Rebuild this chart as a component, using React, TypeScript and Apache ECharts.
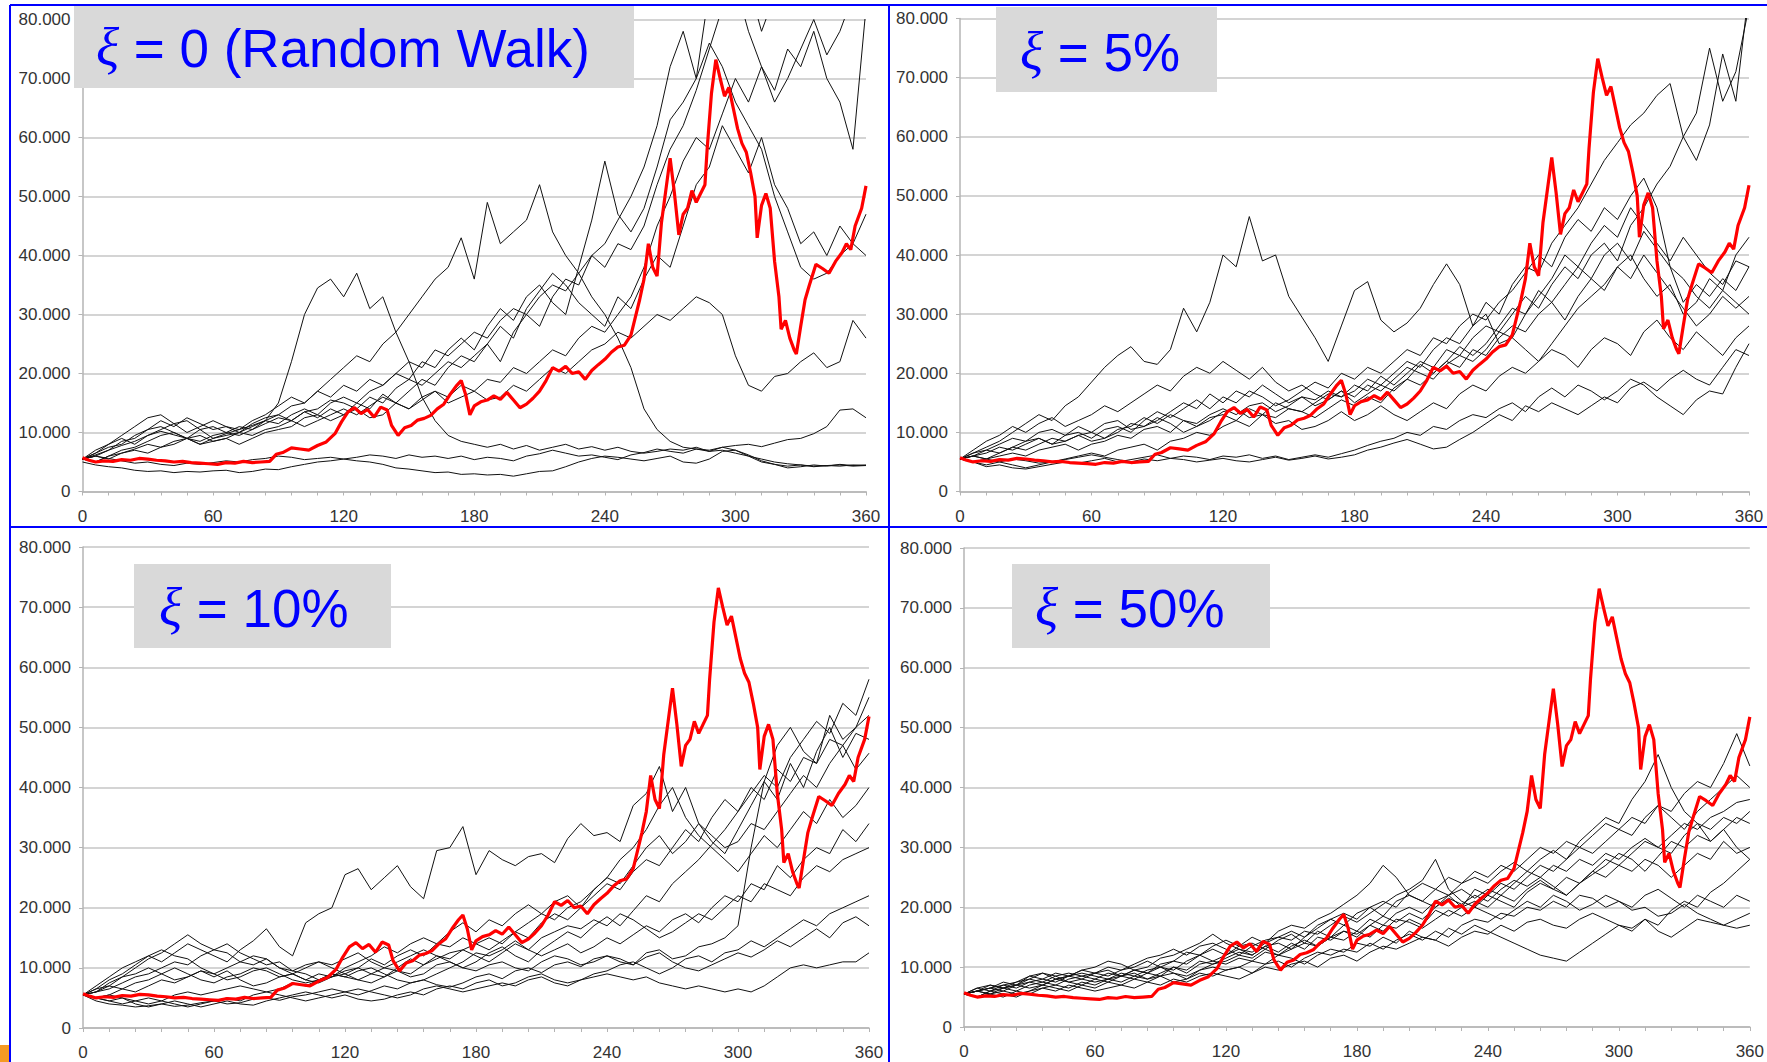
import React, { useEffect, useRef } from 'react';
import * as echarts from 'echarts';

// sampling days for the black simulated paths
const DAYS = [0, 6, 12, 18, 24, 30, 36, 42, 48, 54, 60, 66, 72, 78, 84, 90, 96, 102, 108, 114, 120, 126, 132, 138, 144, 150, 156, 162, 168, 174, 180, 186, 192, 198, 204, 210, 216, 222, 228, 234, 240, 246, 252, 258, 264, 270, 276, 282, 288, 294, 300, 306, 312, 318, 324, 330, 336, 342, 348, 354, 360];

const X_LABELS = [0, 60, 120, 180, 240, 300, 360];
const TITLES = [' = 0 (Random Walk)', ' = 5%', ' = 10%', ' = 50%'];

// red (actual) path: [day, value in thousands]
const RED: [number, number][] = [
  [0, 5.7], [3, 5.3], [6, 5.0], [10, 5.2], [14, 5.1], [18, 5.4], [22, 5.3], [26, 5.6], [30, 5.5], [34, 5.3], [38, 5.2], [42, 5.0], [46, 5.1], [50, 4.9], [54, 4.8], [58, 4.7], [62, 4.6], [66, 4.9], [70, 4.8], [74, 5.1], [78, 4.9], [82, 5.0], [86, 5.1], [89, 6.3], [92, 6.6], [96, 7.4], [100, 7.2], [104, 7.0], [108, 7.8], [112, 8.4], [116, 9.8], [119, 11.8], [122, 13.5], [125, 14.2], [128, 13.2], [131, 13.9], [134, 12.6], [137, 14.3], [140, 13.8], [142, 11.2], [145, 9.5], [148, 10.8], [151, 11.2], [154, 12.1], [157, 12.4], [160, 12.9], [163, 14.0], [166, 14.8], [169, 16.5], [172, 18.0], [174, 18.8], [176, 16.5], [178, 13.0], [180, 14.5], [183, 15.2], [186, 15.5], [189, 16.2], [192, 15.6], [195, 16.8], [198, 15.5], [201, 14.2], [204, 14.8], [207, 15.8], [210, 17.0], [213, 18.8], [216, 21.0], [219, 20.4], [222, 21.2], [225, 20.0], [228, 20.3], [231, 19.0], [234, 20.5], [237, 21.5], [240, 22.4], [243, 23.6], [246, 24.5], [249, 24.8], [252, 26.5], [254, 29.5], [256, 32.5], [258, 36.0], [260, 42.0], [262, 38.0], [264, 36.5], [266, 45.5], [268, 51.0], [270, 56.5], [272, 50.5], [274, 43.5], [276, 47.0], [278, 48.0], [280, 51.0], [282, 49.0], [284, 50.5], [286, 52.0], [287, 58.0], [289, 67.5], [291, 73.2], [293, 70.0], [295, 67.0], [297, 68.5], [299, 65.0], [301, 61.5], [303, 59.0], [305, 57.5], [307, 54.0], [309, 50.0], [310, 43.0], [312, 48.5], [314, 50.5], [316, 48.0], [318, 39.0], [320, 33.0], [321, 27.5], [323, 29.0], [325, 26.0], [327, 24.0], [328, 23.3], [330, 28.0], [332, 32.5], [334, 35.0], [337, 38.5], [340, 37.8], [343, 37.0], [346, 39.0], [349, 40.5], [351, 42.0], [353, 41.0], [355, 45.0], [358, 48.0], [360, 51.8],
];

// xi = 0 (random walk) black paths, values in thousands at DAYS
const TL_LINES = [
  [5.5, 6.2, 7.0, 7.8, 8.5, 9.5, 10.2, 9.6, 9.0, 10.5, 9.0, 9.8, 10.5, 11.2, 12.0, 15.0, 22.0, 30.0, 34.5, 36.0, 33, 37, 31, 33, 27, 22, 16, 12, 9.5, 8.5, 8, 7.5, 8, 7.2, 7.8, 7, 7.5, 8, 7.2, 7.6, 7, 7.5, 6.8, 6.5, 6.8, 7.2, 7, 7.5, 6.8, 7, 6.5, 6, 5.5, 5, 4.7, 4.5, 4.3, 4.4, 4.5, 4.3, 4.4],
  [5.5, 5.0, 6.0, 6.5, 7.2, 8.0, 7.5, 8.5, 9.0, 8.0, 9.0, 9.5, 10.0, 11.0, 12.0, 13.0, 14.5, 15.0, 17.0, 19.0, 21.0, 23.0, 22.0, 25.0, 27.0, 30.0, 33.0, 36.0, 38.0, 43.0, 36.0, 49.0, 42.0, 44.0, 46.0, 52.0, 44.0, 40.0, 37.0, 33.0, 30.0, 26.0, 21.0, 14.0, 10.5, 8.5, 7.5, 7.2, 6.8, 7.5, 7.0, 6.0, 5.0, 4.6, 4.3, 4.5, 4.2, 4.4, 4.3, 4.5, 4.4],
  [5.0, 4.5, 4.2, 4.0, 3.6, 3.4, 3.5, 3.2, 3.4, 3.3, 3.5, 3.6, 3.2, 3.4, 3.8, 3.7, 4.2, 4.6, 5.0, 5.2, 5.5, 5.2, 5.0, 4.6, 4.0, 3.8, 3.5, 3.2, 3.3, 2.9, 3.0, 2.8, 2.9, 2.6, 3.0, 3.4, 3.5, 4.2, 5.0, 5.6, 6.0, 5.8, 5.5, 5.2, 5.6, 6.0, 5.0, 4.8, 5.5, 6.8, 7.0, 6.2, 5.2, 4.6, 4.0, 4.2, 4.5, 4.3, 4.6, 4.4, 4.5],
  [5.5, 6.0, 5.6, 5.2, 4.8, 5.0, 4.6, 4.4, 4.8, 4.6, 4.9, 5.2, 5.0, 5.4, 5.6, 6.0, 5.8, 5.4, 5.6, 5.8, 5.5, 5.8, 6.2, 6.0, 5.6, 6.2, 5.8, 6.0, 5.6, 6.0, 5.4, 5.8, 5.6, 5.2, 6.0, 6.4, 7.0, 6.5, 6.0, 6.2, 5.8, 5.4, 6.2, 6.6, 7.2, 6.8, 6.5, 7.2, 7.0, 7.5, 7.8, 8.0, 7.6, 8.2, 8.8, 9.0, 9.8, 11.0, 13.8, 14.0, 12.5],
  [5.5, 6.5, 7.5, 8.0, 9.5, 10.5, 11.0, 10.0, 9.0, 9.5, 8.5, 9.0, 8.0, 9.0, 10.0, 10.5, 11.0, 12.5, 13.0, 12.0, 13.0, 14.0, 12.5, 13.0, 15.0, 14.0, 16.0, 17.0, 15.0, 16.0, 17.0, 15.5, 16.0, 18.0, 17.0, 19.0, 21.0, 20.0, 22.0, 24.0, 25.0, 27.0, 26.0, 28.0, 30.0, 29.0, 31.0, 33.0, 32.0, 30.0, 23.0, 18.0, 17.0, 19.5, 20.0, 22.0, 23.5, 21.0, 22.0, 29.0, 26.0],
  [5.5, 6.0, 7.0, 8.5, 9.0, 10.5, 12.0, 11.0, 12.5, 11.5, 10.5, 11.0, 10.0, 9.5, 10.5, 11.0, 12.0, 13.5, 14.0, 15.5, 15.0, 14.0, 16.0, 15.0, 17.5, 19.0, 18.0, 20.0, 22.0, 21.0, 23.0, 25.0, 22.0, 27.0, 30.0, 28.0, 33.0, 36.0, 35.0, 40.0, 42.0, 46.0, 50.0, 55.0, 62.0, 72.0, 78.0, 70.0, 85.0, 88.0, 82.0, 86.0, 78.0, 84.0, 90.0, 88.0, 84.0, 92.0, 86.0, 90.0, 95.0],
  [5.5, 6.5, 8.0, 9.5, 11.0, 12.5, 13.0, 11.5, 12.0, 10.5, 11.0, 10.0, 9.5, 10.5, 11.5, 12.5, 12.0, 13.5, 12.5, 14.0, 13.0, 15.0, 14.0, 16.5, 15.0, 14.0, 15.5, 17.0, 16.0, 18.0, 17.0, 19.0, 18.5, 21.0, 20.0, 22.0, 24.0, 23.0, 26.0, 28.0, 27.0, 30.0, 33.0, 38.0, 45.0, 50.0, 56.0, 60.0, 58.0, 64.0, 70.0, 66.0, 72.0, 68.0, 75.0, 72.0, 78.0, 70.0, 66.0, 58.0, 82.0],
  [5.5, 5.0, 6.0, 7.0, 7.5, 8.5, 9.5, 10.0, 9.0, 8.0, 8.5, 9.0, 10.0, 11.5, 12.5, 13.0, 12.0, 11.0, 12.0, 13.0, 14.0, 13.0, 14.5, 16.0, 15.0, 17.0, 19.0, 18.0, 21.0, 23.0, 22.0, 25.0, 28.0, 26.0, 31.0, 34.0, 37.0, 35.0, 32.0, 30.0, 28.0, 33.0, 31.0, 36.0, 40.0, 38.0, 45.0, 52.0, 55.0, 62.0, 58.0, 54.0, 60.0, 52.0, 48.0, 42.0, 44.0, 40.0, 45.0, 42.0, 40.0],
  [5.5, 6.0, 5.5, 6.5, 7.0, 6.5, 7.5, 8.0, 9.0, 8.5, 9.5, 10.0, 11.0, 10.5, 12.0, 11.5, 13.0, 14.0, 13.0, 15.0, 16.0, 15.0, 17.0, 18.0, 20.0, 19.0, 22.0, 21.0, 24.0, 26.0, 24.0, 28.0, 31.0, 29.0, 33.0, 35.0, 32.0, 30.0, 38.0, 46.0, 56.0, 47.0, 44.0, 48.0, 55.0, 63.0, 66.0, 70.0, 76.0, 72.0, 66.0, 62.0, 58.0, 50.0, 44.0, 38.0, 36.0, 37.0, 40.0, 42.0, 47.0],
  [5.5, 7.0, 8.0, 9.0, 8.0, 9.5, 10.5, 11.5, 10.0, 11.0, 12.0, 11.0, 10.5, 12.0, 13.0, 14.5, 16.0, 15.0, 17.0, 16.0, 18.0, 17.0, 19.0, 18.0, 20.0, 22.0, 21.0, 24.0, 23.0, 25.0, 27.0, 26.0, 29.0, 31.0, 30.0, 33.0, 35.0, 34.0, 37.0, 40.0, 38.0, 42.0, 41.0, 45.0, 52.0, 58.0, 62.0, 68.0, 75.0, 82.0, 86.0, 78.0, 72.0, 66.0, 70.0, 75.0, 80.0, 74.0, 78.0, 84.0, 88.0],
];

// xi = 5%
const TR_LINES = [
  [5.5, 6.5, 7.5, 8.5, 10.0, 11.5, 13.0, 12.0, 14.5, 16.0, 18.5, 21.0, 23.0, 24.5, 22.0, 21.5, 24.0, 31.0, 27.0, 32.0, 40.0, 38.0, 46.5, 39.0, 40.0, 33.0, 29.5, 26.0, 22.0, 28.0, 34.0, 35.5, 29.0, 27.0, 28.5, 31.0, 35.0, 38.5, 35.0, 28.0, 30.0, 25.0, 26.0, 24.0, 22.0, 25.0, 28.0, 31.0, 33.0, 35.0, 38.0, 40.0, 36.0, 33.0, 35.0, 30.0, 32.0, 36.0, 34.0, 40.0, 43.0],
  [5.5, 6.0, 5.5, 6.5, 7.5, 7.0, 8.0, 9.0, 8.5, 9.5, 10.0, 9.0, 10.5, 11.0, 12.5, 11.5, 13.0, 12.0, 11.5, 13.0, 14.0, 13.0, 14.5, 15.0, 13.5, 14.5, 16.0, 15.5, 17.0, 16.0, 18.0, 17.0, 19.5, 18.0, 20.0, 22.0, 21.0, 24.0, 23.0, 26.0, 28.0, 27.0, 30.0, 33.0, 31.0, 35.0, 38.0, 36.0, 40.0, 42.0, 39.0, 45.0, 48.0, 52.0, 55.0, 60.0, 64.0, 75.0, 66.0, 71.0, 82.0],
  [5.5, 5.0, 5.5, 6.0, 6.5, 6.0, 7.0, 7.5, 8.0, 7.0, 8.0, 8.5, 9.5, 9.0, 10.5, 11.0, 10.0, 12.0, 11.0, 12.5, 13.0, 12.0, 14.0, 13.0, 15.0, 14.0, 13.5, 15.0, 16.5, 16.0, 17.0, 19.0, 18.0, 20.0, 22.0, 21.0, 24.0, 26.0, 25.0, 28.0, 32.0, 30.0, 35.0, 38.0, 37.0, 42.0, 45.0, 48.0, 52.0, 56.0, 59.0, 62.0, 64.0, 67.0, 69.0, 60.0, 56.0, 62.0, 74.0, 66.0, 85.0],
  [5.5, 6.0, 7.0, 6.5, 7.5, 8.5, 9.0, 8.0, 9.5, 10.0, 9.0, 10.5, 11.0, 10.0, 12.0, 13.5, 12.5, 14.0, 15.5, 14.0, 16.0, 15.0, 17.0, 16.0, 14.5, 15.5, 17.0, 18.5, 17.5, 20.0, 19.0, 21.0, 20.0, 22.0, 24.0, 23.0, 26.0, 25.0, 28.0, 30.0, 29.0, 32.0, 34.0, 37.0, 40.0, 38.0, 43.0, 46.0, 44.0, 48.0, 46.0, 50.0, 53.0, 48.0, 38.0, 32.0, 35.0, 33.0, 36.0, 34.0, 38.0],
  [5.5, 5.0, 4.5, 5.0, 4.5, 4.0, 4.5, 5.0, 5.5, 6.0, 6.5, 6.0, 7.0, 7.5, 8.0, 7.0, 8.5, 9.0, 10.0, 9.5, 11.0, 12.0, 11.0, 13.0, 12.5, 14.0, 13.5, 12.5, 14.0, 15.5, 14.5, 16.0, 15.0, 17.5, 19.0, 18.0, 20.0, 22.0, 21.0, 24.0, 23.0, 26.0, 28.0, 27.0, 30.0, 32.0, 29.0, 33.0, 36.0, 34.0, 38.0, 36.0, 40.0, 37.0, 34.0, 31.0, 28.0, 30.0, 33.0, 31.0, 33.0],
  [5.5, 5.0, 4.2, 4.5, 4.0, 3.8, 4.2, 4.6, 5.0, 4.8, 5.2, 5.6, 5.0, 5.4, 5.8, 6.2, 5.6, 6.0, 5.8, 5.4, 6.0, 5.8, 6.2, 5.6, 6.0, 5.4, 5.8, 6.2, 5.8, 6.4, 7.0, 7.8, 8.5, 9.0, 10.0, 9.5, 11.0, 10.5, 12.0, 13.0, 12.5, 14.0, 15.0, 13.5, 16.0, 17.5, 16.0, 18.0, 17.0, 15.5, 17.0, 19.0, 18.0, 16.0, 14.5, 13.0, 15.5, 17.0, 16.5, 21.0, 25.0],
  [5.5, 6.0, 5.5, 5.0, 5.5, 5.2, 4.8, 5.0, 5.4, 5.8, 6.2, 5.8, 5.4, 5.0, 5.5, 5.2, 5.6, 5.4, 5.0, 5.3, 5.6, 5.2, 5.0, 5.4, 5.8, 5.3, 5.6, 6.0, 5.5, 5.8, 6.2, 7.0, 7.5, 8.2, 8.8, 8.0, 7.2, 7.5, 8.8, 10.0, 11.5, 13.0, 12.0, 14.5, 13.5, 15.0, 14.0, 13.0, 14.5, 16.0, 15.0, 17.5, 18.5, 17.0, 19.0, 20.5, 19.0, 18.0, 21.0, 24.0, 23.0],
  [5.5, 6.5, 7.0, 8.0, 9.0, 8.5, 10.0, 10.5, 9.5, 11.0, 10.0, 11.5, 12.0, 10.5, 11.0, 12.5, 11.5, 10.0, 11.0, 12.0, 13.5, 14.0, 12.5, 13.0, 11.5, 12.0, 10.5, 11.0, 12.0, 13.5, 12.0, 13.0, 14.5, 13.0, 12.0, 13.5, 15.0, 14.0, 16.5, 18.0, 17.0, 19.5, 21.0, 20.0, 22.0, 24.0, 23.0, 21.0, 24.0, 26.0, 25.0, 23.0, 27.0, 29.0, 26.0, 24.0, 27.0, 25.0, 23.0, 26.0, 28.0],
  [5.5, 6.0, 6.5, 7.5, 7.0, 8.0, 9.0, 8.0, 8.5, 9.5, 8.5, 9.0, 10.0, 11.5, 11.0, 12.0, 13.5, 15.0, 14.0, 16.5, 15.0, 17.0, 16.0, 18.0, 16.5, 15.0, 16.0, 14.5, 15.5, 17.0, 16.0, 18.0, 17.0, 19.0, 21.0, 20.0, 19.0, 21.5, 23.0, 22.0, 24.0, 27.0, 26.0, 30.0, 33.0, 36.0, 40.0, 38.0, 42.0, 45.0, 43.0, 48.0, 45.0, 42.0, 39.0, 43.0, 40.0, 37.0, 35.0, 39.0, 38.0],
  [5.5, 7.0, 8.5, 9.5, 11.0, 10.0, 11.5, 12.5, 11.0, 12.0, 13.0, 14.5, 13.5, 15.0, 16.5, 18.0, 17.0, 19.5, 21.0, 20.0, 22.0, 20.5, 19.0, 21.0, 18.5, 17.0, 18.0, 16.5, 15.5, 17.0, 15.0, 16.5, 18.0, 17.0, 19.0, 21.5, 20.0, 22.0, 24.5, 23.0, 25.0, 28.0, 31.0, 30.0, 34.0, 32.0, 35.0, 38.0, 36.0, 40.0, 42.0, 39.0, 44.0, 41.0, 38.0, 36.0, 33.0, 31.0, 34.0, 32.0, 30.0],
];

// xi = 10%
const BL_LINES = [
  [5.5, 6.5, 8.0, 9.0, 10.5, 12.0, 11.0, 12.5, 14.0, 13.0, 12.0, 11.0, 13.0, 14.5, 16.5, 13.5, 12.0, 17.5, 19.0, 20.0, 25.5, 26.5, 23.0, 25.0, 27.0, 23.5, 21.5, 29.5, 30.0, 33.5, 25.5, 29.5, 28.0, 27.0, 28.5, 29.0, 27.5, 31.5, 34.0, 32.0, 32.5, 31.0, 37.0, 39.0, 43.5, 36.0, 40.0, 34.0, 31.0, 29.0, 33.0, 37.0, 41.0, 47.0, 50.0, 46.0, 44.0, 52.0, 48.0, 50.0, 55.0],
  [5.5, 6.0, 7.5, 8.5, 9.0, 10.0, 9.0, 8.0, 8.5, 9.5, 8.5, 9.5, 8.0, 7.0, 7.5, 8.5, 9.0, 8.0, 7.5, 8.5, 9.5, 10.0, 9.0, 8.5, 10.0, 11.5, 10.5, 12.0, 11.0, 10.0, 11.0, 12.5, 13.5, 12.0, 11.0, 13.0, 14.5, 16.0, 15.0, 17.0, 18.5, 17.0, 19.5, 22.0, 21.0, 24.0, 26.0, 28.0, 30.5, 33.0, 36.0, 39.0, 42.0, 40.0, 45.0, 48.0, 51.0, 49.0, 54.0, 52.0, 58.0],
  [5.5, 5.0, 5.5, 6.5, 6.0, 7.0, 8.0, 7.5, 8.5, 9.5, 9.0, 8.0, 8.5, 9.5, 10.0, 9.0, 8.0, 7.5, 8.0, 9.0, 8.5, 8.0, 9.0, 10.0, 9.5, 8.5, 9.0, 10.5, 11.0, 10.0, 9.5, 10.5, 11.0, 10.0, 9.5, 11.0, 12.0, 11.5, 10.5, 11.0, 12.0, 11.5, 10.5, 12.5, 13.0, 11.5, 12.0, 13.5, 14.0, 15.0, 17.0, 30.0, 41.0, 38.0, 44.0, 40.0, 46.0, 50.0, 45.0, 49.0, 48.0],
  [5.5, 6.5, 7.0, 8.5, 10.0, 11.5, 12.5, 14.0, 15.5, 14.0, 13.0, 12.5, 11.0, 10.5, 11.5, 10.0, 9.5, 10.5, 11.0, 10.0, 9.0, 10.0, 11.5, 10.5, 12.0, 13.0, 12.0, 14.0, 13.5, 15.0, 14.0, 13.0, 14.5, 16.0, 15.0, 17.5, 19.0, 18.0, 20.0, 22.0, 24.0, 23.0, 26.0, 28.0, 27.0, 30.0, 33.0, 31.0, 35.0, 38.0, 36.0, 40.0, 38.0, 43.0, 41.0, 45.0, 44.0, 48.0, 47.0, 43.0, 45.7],
  [5.5, 7.0, 8.5, 10.0, 11.0, 12.0, 13.0, 12.0, 11.5, 10.0, 9.0, 10.0, 11.0, 12.0, 11.5, 10.0, 9.0, 8.0, 9.0, 8.5, 10.0, 11.0, 12.0, 13.5, 12.5, 14.0, 15.0, 14.0, 16.0, 17.5, 16.0, 18.0, 17.0, 19.0, 20.5, 19.0, 21.0, 22.0, 20.0, 23.0, 25.0, 28.0, 30.0, 33.0, 37.0, 40.0, 35.0, 32.0, 30.0, 28.0, 26.0, 29.0, 32.0, 30.0, 33.0, 36.0, 34.0, 38.0, 35.0, 37.0, 40.0],
  [5.5, 5.0, 4.5, 4.0, 4.5, 5.0, 4.5, 5.5, 6.0, 5.5, 6.0, 6.5, 7.0, 6.5, 6.0, 6.5, 7.5, 7.0, 8.0, 9.0, 8.5, 9.5, 10.0, 9.0, 8.0, 7.5, 8.0, 9.0, 10.0, 11.0, 12.5, 12.0, 13.0, 14.5, 13.0, 12.0, 13.0, 14.0, 12.5, 13.5, 15.0, 14.0, 15.5, 17.0, 16.0, 18.0, 19.0, 17.5, 20.0, 22.0, 21.0, 24.0, 23.0, 27.0, 25.0, 28.0, 30.0, 29.0, 33.0, 31.0, 34.0],
  [5.5, 6.0, 6.5, 7.5, 8.5, 9.0, 10.0, 11.0, 10.5, 12.0, 13.0, 14.0, 12.5, 11.5, 10.5, 11.0, 9.5, 9.0, 8.0, 8.5, 9.0, 8.0, 7.5, 8.5, 9.5, 9.0, 10.5, 11.5, 12.5, 13.0, 12.0, 11.0, 12.5, 14.0, 13.0, 15.0, 16.0, 17.0, 16.5, 18.0, 17.0, 19.0, 18.0, 16.5, 15.0, 16.0, 17.5, 19.0, 18.0, 20.0, 22.0, 21.0, 24.0, 23.0, 22.0, 25.0, 27.0, 26.0, 28.0, 29.0, 30.0],
  [5.5, 5.0, 5.5, 5.0, 4.0, 3.5, 4.0, 4.5, 4.0, 3.5, 4.0, 4.5, 4.0, 3.8, 4.5, 5.0, 5.5, 6.0, 5.5, 5.0, 5.5, 4.8, 4.5, 4.8, 5.5, 6.0, 5.5, 6.5, 7.0, 6.5, 7.5, 8.0, 7.0, 7.5, 8.5, 9.0, 8.0, 7.5, 8.0, 9.0, 9.5, 10.5, 11.0, 10.0, 9.0, 10.0, 11.5, 12.0, 11.0, 12.5, 13.0, 14.5, 13.5, 15.0, 16.5, 18.0, 17.0, 19.0, 20.0, 21.0, 22.0],
  [5.5, 4.5, 4.0, 3.8, 3.5, 3.7, 4.0, 3.6, 3.8, 4.2, 4.5, 4.0, 4.2, 4.8, 5.0, 4.6, 5.2, 5.5, 6.0, 6.5, 6.0, 5.5, 6.2, 7.0, 6.5, 7.5, 8.0, 7.2, 6.8, 7.5, 8.5, 9.0, 8.2, 9.5, 10.0, 9.2, 10.5, 11.0, 10.2, 11.5, 12.0, 11.0, 10.5, 11.8, 12.5, 11.0, 10.0, 9.5, 10.5, 11.5, 12.5, 11.8, 13.0, 14.5, 13.5, 15.0, 16.5, 15.0, 17.5, 18.5, 17.0],
  [5.5, 5.0, 4.5, 5.0, 4.5, 4.0, 4.5, 4.0, 3.5, 4.0, 4.5, 5.0, 4.5, 5.5, 6.0, 5.5, 5.0, 4.5, 5.0, 5.5, 6.0, 6.5, 6.0, 5.5, 5.0, 5.5, 6.5, 7.0, 6.5, 6.0, 6.5, 7.0, 7.5, 7.0, 8.0, 8.5, 7.5, 7.0, 8.0, 8.5, 9.0, 8.5, 8.0, 8.5, 7.5, 7.0, 6.5, 7.0, 6.5, 6.0, 6.5, 6.0, 7.0, 8.5, 10.0, 10.5, 10.0, 10.5, 11.0, 11.0, 12.5],
  [5.5, 6.0, 7.0, 6.5, 7.5, 8.0, 9.0, 10.0, 9.0, 8.0, 7.5, 8.5, 9.0, 10.0, 9.5, 8.5, 9.0, 10.0, 11.0, 10.5, 11.5, 12.5, 11.0, 10.0, 11.0, 12.0, 13.0, 12.0, 11.5, 13.0, 14.0, 15.0, 14.0, 16.0, 17.5, 19.0, 18.0, 20.0, 21.0, 23.0, 25.0, 24.0, 27.0, 30.0, 32.0, 29.0, 31.0, 34.0, 32.0, 30.0, 31.0, 34.0, 33.0, 36.0, 39.0, 42.0, 40.0, 44.0, 47.0, 50.0, 52.0],
];

// xi = 50%
const BR_LINES = [
  [5.5, 6.0, 6.5, 7.0, 6.5, 7.5, 8.0, 7.5, 8.5, 8.0, 7.5, 8.0, 8.5, 9.5, 9.0, 10.0, 11.0, 10.5, 12.0, 13.0, 12.0, 13.5, 14.0, 13.0, 14.5, 15.5, 14.0, 16.0, 15.0, 17.0, 16.0, 18.0, 17.0, 19.0, 20.0, 19.0, 21.0, 22.0, 20.0, 23.0, 22.0, 24.0, 23.0, 25.0, 27.0, 26.0, 28.0, 30.0, 29.0, 31.0, 33.0, 32.0, 35.0, 37.0, 36.0, 39.0, 41.0, 40.0, 44.0, 49.0, 43.6],
  [5.5, 6.5, 7.0, 6.5, 7.5, 8.5, 8.0, 9.0, 8.5, 9.5, 9.0, 10.0, 9.5, 10.5, 11.5, 12.0, 13.0, 12.0, 13.5, 14.0, 13.0, 12.0, 13.5, 14.5, 15.0, 16.0, 15.0, 17.0, 18.0, 17.0, 19.0, 20.0, 18.5, 21.0, 22.0, 21.0, 23.0, 22.0, 24.0, 25.0, 24.0, 26.0, 27.5, 26.0, 28.0, 29.5, 28.0, 31.0, 33.0, 35.0, 34.0, 38.0, 41.0, 45.5, 40.0, 36.0, 34.0, 31.0, 33.0, 30.0, 28.0],
  [5.5, 6.0, 5.5, 6.0, 7.0, 6.5, 7.0, 8.0, 7.5, 7.0, 8.0, 7.5, 8.5, 8.0, 9.0, 8.5, 10.0, 9.5, 11.0, 10.5, 11.5, 12.5, 12.0, 13.5, 12.5, 14.0, 13.0, 15.0, 14.5, 16.0, 15.5, 17.0, 18.5, 17.5, 19.0, 18.0, 20.0, 21.5, 20.5, 22.0, 21.0, 23.0, 24.5, 23.5, 25.0, 27.0, 26.0, 28.0, 27.0, 29.0, 28.0, 30.0, 31.5, 30.0, 32.0, 34.0, 33.0, 35.0, 36.0, 37.5, 38.0],
  [5.5, 5.0, 6.0, 6.5, 6.0, 7.0, 7.5, 7.0, 8.0, 8.5, 8.0, 9.0, 8.5, 9.5, 9.0, 10.5, 11.0, 12.5, 12.0, 11.0, 12.0, 13.0, 12.5, 14.0, 15.0, 14.5, 16.0, 15.5, 17.0, 18.5, 17.5, 19.0, 20.5, 22.0, 23.0, 24.5, 28.0, 23.0, 21.0, 20.0, 22.0, 21.0, 20.0, 22.5, 24.0, 23.0, 25.0, 24.0, 26.0, 28.0, 27.0, 29.0, 31.0, 30.0, 29.0, 32.0, 34.0, 33.0, 35.0, 34.0, 36.0],
  [5.5, 6.5, 6.0, 7.0, 7.5, 8.0, 9.0, 8.5, 7.5, 8.0, 9.0, 8.5, 9.5, 10.0, 11.0, 10.0, 9.5, 11.0, 12.0, 13.5, 14.5, 13.5, 15.0, 14.0, 16.0, 17.0, 16.5, 18.0, 19.0, 20.5, 22.0, 24.0, 27.0, 25.0, 22.0, 21.0, 20.0, 22.0, 23.0, 21.5, 23.0, 22.0, 24.0, 26.0, 25.0, 23.5, 22.0, 24.0, 25.5, 27.0, 29.0, 28.0, 26.0, 28.5, 31.0, 30.0, 32.0, 31.0, 33.0, 35.0, 34.0],
  [5.5, 5.0, 5.5, 5.0, 6.0, 5.5, 6.5, 7.0, 6.5, 7.5, 7.0, 8.0, 7.5, 8.5, 8.0, 9.0, 10.0, 9.0, 10.5, 11.0, 10.5, 11.5, 11.0, 12.5, 12.0, 13.0, 14.0, 13.5, 15.0, 14.5, 16.0, 15.0, 17.0, 16.5, 18.0, 17.0, 19.5, 18.5, 20.0, 21.0, 20.0, 22.0, 21.0, 23.0, 24.5, 23.0, 22.0, 24.0, 26.0, 25.0, 27.0, 26.0, 28.0, 27.0, 25.0, 27.0, 29.0, 28.0, 31.0, 29.0, 30.0],
  [5.5, 6.0, 6.5, 6.0, 5.5, 6.0, 7.0, 6.5, 6.0, 7.0, 6.5, 7.5, 7.0, 8.0, 7.5, 8.5, 9.0, 8.0, 9.5, 10.0, 9.5, 10.0, 11.0, 10.5, 12.0, 11.5, 10.5, 12.0, 13.0, 12.5, 14.0, 13.5, 15.0, 14.0, 16.0, 15.0, 14.5, 16.5, 15.5, 17.0, 16.0, 15.0, 14.0, 13.0, 12.0, 11.5, 11.0, 12.5, 14.0, 15.5, 17.0, 16.0, 18.0, 17.0, 19.5, 21.0, 20.0, 22.5, 24.0, 26.0, 28.0],
  [5.5, 6.0, 5.5, 6.5, 7.0, 7.5, 7.0, 8.0, 8.5, 9.0, 8.5, 8.0, 9.0, 8.5, 9.5, 10.0, 9.0, 8.5, 9.5, 10.5, 11.0, 12.0, 11.5, 13.0, 12.0, 13.5, 14.5, 13.5, 15.0, 16.0, 15.0, 17.0, 16.0, 18.0, 17.5, 16.5, 18.0, 19.5, 18.5, 20.0, 19.0, 18.0, 19.5, 21.0, 20.0, 22.0, 21.0, 19.5, 20.5, 22.0, 21.0, 20.0, 22.0, 23.0, 21.5, 20.0, 22.0, 21.0, 20.0, 22.0, 21.0],
  [5.5, 5.0, 6.0, 5.5, 5.0, 6.0, 6.5, 6.0, 7.0, 6.5, 6.0, 6.5, 7.0, 6.5, 7.5, 7.0, 8.0, 7.5, 8.5, 9.0, 8.5, 8.0, 9.0, 10.0, 9.5, 10.5, 11.0, 10.0, 11.5, 12.0, 11.0, 12.5, 13.5, 13.0, 14.0, 15.0, 14.5, 13.5, 15.0, 16.0, 15.5, 17.0, 16.0, 17.5, 18.0, 17.0, 16.5, 18.0, 19.0, 18.0, 17.0, 16.5, 18.0, 16.0, 15.0, 16.5, 18.0, 17.5, 17.0, 18.0, 19.0],
  [5.5, 6.0, 7.0, 6.5, 7.0, 8.0, 7.5, 8.5, 9.0, 8.5, 9.0, 9.5, 8.5, 9.0, 8.0, 8.5, 7.5, 8.0, 9.0, 8.5, 9.5, 10.0, 9.0, 10.5, 11.0, 10.0, 11.5, 12.5, 12.0, 13.0, 12.5, 14.0, 13.0, 14.5, 15.5, 14.5, 16.0, 15.0, 17.0, 18.0, 17.5, 19.0, 18.5, 20.0, 19.5, 21.0, 20.0, 22.0, 21.5, 20.0, 21.0, 19.5, 20.0, 18.5, 19.0, 20.5, 19.0, 18.0, 17.0, 16.5, 17.0],
  [5.5, 6.0, 6.5, 7.5, 7.0, 8.5, 9.0, 8.0, 8.5, 9.5, 10.0, 11.0, 10.5, 9.5, 10.0, 11.5, 12.0, 13.0, 14.0, 15.5, 14.0, 13.0, 12.0, 13.5, 14.0, 13.0, 15.0, 16.5, 18.0, 19.0, 18.0, 20.0, 21.0, 20.0, 22.5, 24.0, 23.0, 25.0, 24.0, 26.0, 25.0, 27.0, 26.0, 28.0, 30.0, 29.0, 31.0, 30.0, 32.0, 34.0, 33.0, 35.0, 34.0, 37.0, 35.0, 33.0, 36.0, 38.0, 40.0, 42.0, 40.0],
];

const PANEL_LINES = [TL_LINES, TR_LINES, BL_LINES, BR_LINES];

// layout (pixels)
const LAYOUT = [
  { grid: { left: 82.5, top: 19.5, width: 783.5, height: 472 }, box: { x: 74, y: 6, w: 560, h: 82 }, tx: 96, ty: 48 },
  { grid: { left: 960, top: 18.5, width: 789, height: 473 }, box: { x: 996, y: 7, w: 221, h: 85 }, tx: 1020, ty: 52 },
  { grid: { left: 83, top: 547, width: 786, height: 481 }, box: { x: 134, y: 564, w: 257, h: 84 }, tx: 159, ty: 608 },
  { grid: { left: 964, top: 548, width: 786, height: 479 }, box: { x: 1012, y: 564, w: 258, h: 84 }, tx: 1035, ty: 608 },
];

const AXIS_GRAY = '#b4b4b4';
const LABEL_STYLE = { fontFamily: 'Liberation Sans', fontSize: 17, color: '#333' };

function buildOption() {
  const grids = LAYOUT.map((l) => ({ ...l.grid, containLabel: false }));
  const xAxes = LAYOUT.map((_, i) => ({
    type: 'value', gridIndex: i, min: 0, max: 360, interval: 12,
    axisLine: { show: true, lineStyle: { color: AXIS_GRAY, width: 1.5 } },
    axisTick: { show: true, length: 4, lineStyle: { color: AXIS_GRAY } },
    axisLabel: {
      ...LABEL_STYLE, margin: 16, showMinLabel: true, showMaxLabel: true,
      formatter: (v: number) => (X_LABELS.indexOf(v) >= 0 ? String(v) : ''),
    },
    splitLine: { show: false },
  }));
  const yAxes = LAYOUT.map((_, i) => ({
    type: 'value', gridIndex: i, min: 0, max: 80000, interval: 10000,
    axisLine: { show: true, lineStyle: { color: AXIS_GRAY, width: 1.5 } },
    axisTick: { show: true, length: 4, lineStyle: { color: AXIS_GRAY } },
    axisLabel: {
      ...LABEL_STYLE, margin: 12,
      formatter: (v: number) => (v === 0 ? '0' : `${Math.round(v / 1000)}.000`),
    },
    splitLine: { show: true, lineStyle: { color: '#c6c6c6', width: 1.5 } },
  }));
  const series: any[] = [];
  PANEL_LINES.forEach((lines, i) => {
    lines.forEach((vals, k) => {
      series.push({
        type: 'line', name: `p${i}_${k}`, xAxisIndex: i, yAxisIndex: i,
        data: DAYS.map((d, j) => [d, vals[j] * 1000]),
        showSymbol: false, symbol: 'none', silent: true, clip: true, z: 2,
        lineStyle: { color: '#111', width: 1.0 },
      });
    });
    series.push({
      type: 'line', name: `red${i}`, xAxisIndex: i, yAxisIndex: i,
      data: RED.map(([d, v]) => [d, v * 1000]),
      showSymbol: false, symbol: 'none', silent: true, clip: true, z: 3,
      lineStyle: { color: '#ff0000', width: 3.2 },
    });
  });

  const blue = '#0000ff';
  const graphic: any[] = [
    { type: 'line', z: 100, shape: { x1: 10, y1: 5, x2: 1767, y2: 5 }, style: { stroke: blue, lineWidth: 2 } },
    { type: 'line', z: 100, shape: { x1: 10, y1: 527, x2: 1767, y2: 527 }, style: { stroke: blue, lineWidth: 2 } },
    { type: 'line', z: 100, shape: { x1: 10, y1: 5, x2: 10, y2: 1062 }, style: { stroke: blue, lineWidth: 2 } },
    { type: 'line', z: 100, shape: { x1: 889, y1: 5, x2: 889, y2: 1062 }, style: { stroke: blue, lineWidth: 2 } },
    { type: 'rect', z: 100, shape: { x: 0, y: 1045, width: 9, height: 17 }, style: { fill: '#f59a23' } },
  ];
  LAYOUT.forEach((l, i) => {
    graphic.push({ type: 'rect', z: 110, shape: { x: l.box.x, y: l.box.y, width: l.box.w, height: l.box.h }, style: { fill: '#d9d9d9' } });
    graphic.push({
      type: 'text', z: 111, x: l.tx, y: l.ty,
      style: {
        text: `{a|ξ}{b|${TITLES[i]}}`,
        verticalAlign: 'middle',
        rich: {
          a: { fontFamily: 'Liberation Serif', fontStyle: 'italic', fontSize: 54, fill: blue, color: blue },
          b: { fontFamily: 'Liberation Sans', fontSize: 53, fill: blue, color: blue },
        },
      },
    });
  });

  return {
    animation: false,
    backgroundColor: '#ffffff',
    grid: grids,
    xAxis: xAxes,
    yAxis: yAxes,
    series,
    graphic,
  };
}

export default function App() {
  const ref = useRef<HTMLDivElement>(null);
  useEffect(() => {
    const chart = echarts.init(ref.current!, null, { renderer: 'svg' });
    chart.setOption(buildOption() as any);
    return () => chart.dispose();
  }, []);
  return (
    <div
      ref={ref}
      style={{ position: 'fixed', left: 0, top: 0, width: 1767, height: 1062, background: '#fff' }}
    />
  );
}
